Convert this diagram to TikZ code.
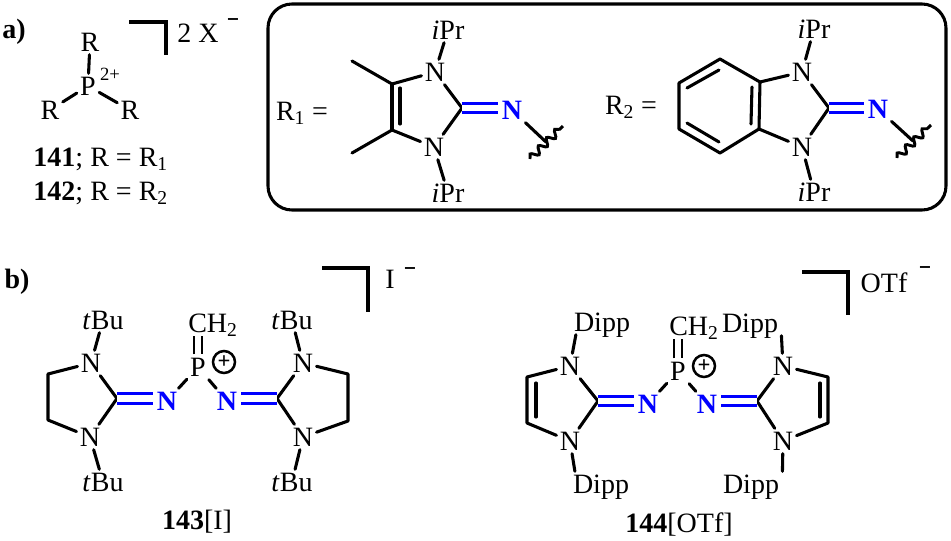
\documentclass[tikz,border=0pt]{standalone}
\usepackage{fontspec}
\setmainfont{Liberation Serif}
\newfontfamily\chargefont{DejaVu Sans}
\usetikzlibrary{decorations.pathmorphing}

\tikzset{every picture/.style={line width=0.75pt}}
\tikzset{
	atom/.style={inner sep=2.2pt,text height=13.9pt,text depth=0pt,font=\fontsize{21}{25}\selectfont},
	blueatom/.style={atom,text=blue,font=\fontsize{21}{25}\selectfont\bfseries},
	plaintext/.style={inner sep=0pt,font=\fontsize{21}{25}\selectfont},
	chargesign/.style={inner sep=0pt,font=\chargefont\fontsize{12}{12}\selectfont\bfseries},
	posringsign/.style={circle,draw,line width=1.9pt,minimum size=16.5pt,inner sep=0pt,font=\fontsize{17}{17}\selectfont\bfseries},
	bond/.style={line width=2.3pt,line cap=round,line join=round},
	dblbond/.style={line width=1.9pt,double=white,double distance=3.8pt},
	imine/.style={draw=blue,line width=2.2pt,double=white,double distance=4.8pt},
	wavybond/.style={line width=2.2pt,decorate,decoration={snake,amplitude=2.6pt,segment length=8.7pt}},
	cornerline/.style={line width=2.5pt,line cap=butt,line join=miter},
}

\begin{document}
\begin{tikzpicture}[x=0.75pt,y=0.75pt,yscale=-1,xscale=1]
	\useasboundingbox (0,0) rectangle (951,540);

	%Labels a) and b)
	\node [plaintext] (lbla) at (14,32) {\textbf{a)}};
	\node [plaintext] (lblb) at (17,282) {\textbf{b)}};

	%Shape: salt 141/142
	\node [atom] (rtop) at (90,42) {R};
	\node [atom] (ptop) at (88,86) {P};
	\node [atom] (rleft) at (50,110) {R};
	\node [atom] (rright) at (130,110) {R};
	\node [inner sep=0pt,font=\fontsize{14}{14}\selectfont] (pchg) at (110,74) {2+};
	\draw [bond] (ptop) -- (rtop) ;
	\draw [bond] (ptop) -- (rleft) ;
	\draw [bond] (ptop) -- (rright) ;
	\coordinate (bra) at (129,22);
	\coordinate (brb) at (166,22);
	\coordinate (brc) at (166,55);
	\draw [cornerline] (bra) -- (brb) -- (brc) ;
	\node [plaintext] (xcount) at (198,33) {2 X};
	\node [chargesign] (xminus) at (233,22) {−};
	\node [plaintext,anchor=west] (cmpa) at (33,159) {\textbf{141}; R = R\textsubscript{1}};
	\node [plaintext,anchor=west] (cmpb) at (33,193) {\textbf{142}; R = R\textsubscript{2}};

	%Rounded box
	\coordinate (boxa) at (268,4);
	\coordinate (boxb) at (946,210);
	\draw [line width=2.3pt,rounded corners=18] (boxa) rectangle (boxb) ;

	%Shape: R1
	\node [plaintext] (rone) at (302,113) {R\textsubscript{1} =};
	\foreach \cx/\cy/\name in {392/84/caa,392/130/cab,462/108/cac,352/61/mea,352/153/meb,400/88/ina,400/124/inb,530/159/wva,563/126/wvb,546/142/wvc}
		\coordinate (\name) at (\cx,\cy);
	\node [atom] (naa) at (435,72) {N};
	\node [atom] (nab) at (434,147) {N};
	\node [blueatom] (nac) at (512,110) {N};
	\node [atom] (ipa) at (448,30) {\textit{i}Pr};
	\node [atom] (ipb) at (448,193) {\textit{i}Pr};
	\draw [bond] (mea) -- (caa) -- (naa) ;
	\draw [bond] (meb) -- (cab) -- (nab) ;
	\draw [bond] (caa) -- (cab) ;
	\draw [bond] (ina) -- (inb) ;
	\draw [bond] (naa) -- (cac) -- (nab) ;
	\draw [bond] (naa) -- (ipa) ;
	\draw [bond] (nab) -- (ipb) ;
	\draw [imine] (cac) -- (nac.west |- cac) ;
	\draw [bond] (nac) -- (wvc) ;
	\draw [wavybond] (wva) -- (wvb) ;

	%Shape: R2
	\node [plaintext] (rtwo) at (631,107) {R\textsubscript{2} =};
	\foreach \cx/\cy/\name in {720/59/hxa,679/83/hxb,679/129/hxc,720/153/hxd,759/129/hxe,760/82/hxf,829/108/cbc,687/88/inc,719/70/ind,687/123/ine,719/142/inf,752/87/ing,751/124/inh,897/158/wvd,931/125/wve,913/141/wvf}
		\coordinate (\name) at (\cx,\cy);
	\node [atom] (nba) at (802,72) {N};
	\node [atom] (nbb) at (802,147) {N};
	\node [blueatom] (nbc) at (878,109) {N};
	\node [atom] (ipc) at (814,29) {\textit{i}Pr};
	\node [atom] (ipd) at (814,192) {\textit{i}Pr};
	\draw [bond] (hxa) -- (hxb) -- (hxc) -- (hxd) -- (hxe) -- (hxf) -- cycle ;
	\draw [bond] (inc) -- (ind) ;
	\draw [bond] (ine) -- (inf) ;
	\draw [bond] (ing) -- (inh) ;
	\draw [bond] (hxf) -- (nba) ;
	\draw [bond] (hxe) -- (nbb) ;
	\draw [bond] (nba) -- (cbc) -- (nbb) ;
	\draw [bond] (nba) -- (ipc) ;
	\draw [bond] (nbb) -- (ipd) ;
	\draw [imine] (cbc) -- (nbc.west |- cbc) ;
	\draw [bond] (nbc) -- (wvf) ;
	\draw [wavybond] (wvd) -- (wve) ;

	%Shape: 143[I]
	\foreach \cx/\cy/\name in {117/398.5/cca,48/374/ccb,48/420/ccc,277/398.5/ccd,348/374/cce,348/421/ccf,322/268/brd,368/268/bre,368/312/brf}
		\coordinate (\name) at (\cx,\cy);
	\draw [cornerline] (brd) -- (bre) -- (brf) ;
	\node [plaintext] (iodide) at (390,279) {I};
	\node [chargesign] (iminus) at (410,271) {−};
	\node [atom] (nca) at (91,363) {N};
	\node [atom] (ncb) at (90,437) {N};
	\node [blueatom] (ncc) at (167,401) {N};
	\node [atom] (pcc) at (198,367) {P};
	\node [blueatom] (ncd) at (227,401) {N};
	\node [atom] (nce) at (303,363) {N};
	\node [atom] (ncf) at (303,437) {N};
	\node [atom] (chc) at (213,323) {CH\textsubscript{2}};
	\node [posringsign] (plc) at (224,362) {+};
	\node [atom] (tba) at (103,320) {\textit{t}Bu};
	\node [atom] (tbb) at (103,482) {\textit{t}Bu};
	\node [atom] (tbc) at (292,320) {\textit{t}Bu};
	\node [atom] (tbd) at (292,482) {\textit{t}Bu};
	\node [plaintext] (cmpc) at (197,522) {\textbf{143}[I]};
	\draw [bond] (nca) -- (ccb) -- (ccc) -- (ncb) ;
	\draw [bond] (nca) -- (cca) -- (ncb) ;
	\draw [bond] (nce) -- (cce) -- (ccf) -- (ncf) ;
	\draw [bond] (nce) -- (ccd) -- (ncf) ;
	\draw [bond] (nca) -- (tba) ;
	\draw [bond] (ncb) -- (tbb) ;
	\draw [bond] (nce) -- (tbc) ;
	\draw [bond] (ncf) -- (tbd) ;
	\draw [imine] (cca) -- (ncc.west |- cca) ;
	\draw [imine] (ccd) -- (ncd.east |- ccd) ;
	\draw [bond] (ncc) -- (pcc) ;
	\draw [bond] (ncd) -- (pcc) ;
	\draw [dblbond] (pcc.north) -- (pcc.north |- chc.south) ;

	%Shape: 144[OTf]
	\foreach \cx/\cy/\name in {598/401/cda,527/377/cdb,527/423/cdc,757/401/cdd,828/377/cde,828/423/cdf,536/383/ini,536/417/inj,820/383/ink,820/417/inl,802/272/brg,848/272/brh,848/315/bri}
		\coordinate (\name) at (\cx,\cy);
	\draw [cornerline] (brg) -- (brh) -- (bri) ;
	\node [plaintext] (otf) at (884,283) {OTf};
	\node [chargesign] (otfminus) at (925,270) {−};
	\node [atom] (nda) at (570,366) {N};
	\node [atom] (ndb) at (570,441) {N};
	\node [blueatom] (ndc) at (648,404) {N};
	\node [atom] (pdd) at (678,371) {P};
	\node [blueatom] (ndd) at (707,404) {N};
	\node [atom] (nde) at (783,366) {N};
	\node [atom] (ndf) at (783,441) {N};
	\node [atom] (chd) at (694,326) {CH\textsubscript{2}};
	\node [posringsign] (pld) at (704,366) {+};
	\node [atom] (dpa) at (602,322) {Dipp};
	\node [atom] (dpb) at (601,484) {Dipp};
	\node [atom] (dpc) at (750,323) {Dipp};
	\node [atom] (dpd) at (751,484) {Dipp};
	\node [plaintext] (cmpd) at (679,525) {\textbf{144}[OTf]};
	\draw [bond] (nda) -- (cdb) -- (cdc) -- (ndb) ;
	\draw [bond] (nda) -- (cda) -- (ndb) ;
	\draw [bond] (nde) -- (cde) -- (cdf) -- (ndf) ;
	\draw [bond] (nde) -- (cdd) -- (ndf) ;
	\draw [bond] (ini) -- (inj) ;
	\draw [bond] (ink) -- (inl) ;
	\draw [bond] (nda) -- ([xshift=4]dpa.south west) ;
	\draw [bond] (ndb) -- ([xshift=4]dpb.north west) ;
	\draw [bond] (nde) -- (dpc.south east) ;
	\draw [bond] (ndf) -- (dpd.north east) ;
	\draw [imine] (cda) -- (ndc.west |- cda) ;
	\draw [imine] (cdd) -- (ndd.east |- cdd) ;
	\draw [bond] (ndc) -- (pdd) ;
	\draw [bond] (ndd) -- (pdd) ;
	\draw [dblbond] (pdd.north) -- (pdd.north |- chd.south) ;

\end{tikzpicture}
\end{document}
